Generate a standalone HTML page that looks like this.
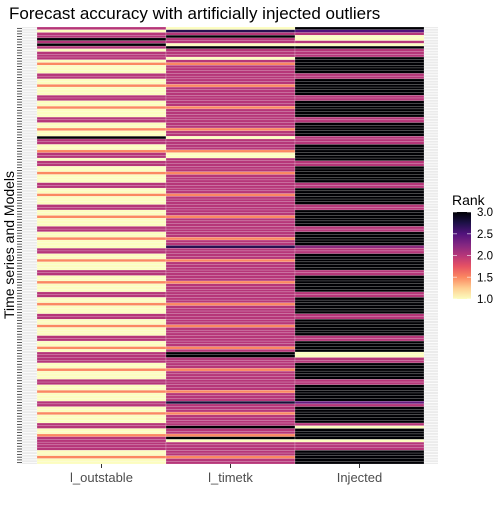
<!DOCTYPE html>
<html><head><meta charset="utf-8">
<style>
body{margin:0;background:#fff;font-family:"Liberation Sans",sans-serif;}
svg text{font-family:"Liberation Sans",sans-serif;}
</style></head>
<body>
<svg id="chart" width="504" height="504" viewBox="0 0 504 504">
<defs>
<linearGradient id="magma" x1="0" y1="1" x2="0" y2="0">
<stop offset="0" stop-color="#FCFDBF"/><stop offset="0.125" stop-color="#FECE91"/>
<stop offset="0.25" stop-color="#FB8861"/><stop offset="0.375" stop-color="#E75263"/>
<stop offset="0.5" stop-color="#B63679"/><stop offset="0.625" stop-color="#822681"/>
<stop offset="0.75" stop-color="#51127C"/><stop offset="0.875" stop-color="#1D1147"/>
<stop offset="1" stop-color="#000004"/></linearGradient>
</defs>
<text x="9" y="19" font-size="17" fill="#000">Forecast accuracy with artificially injected outliers</text>
<rect x="22" y="27" width="416" height="437" fill="#EBEBEB"/>
<g id="grid"></g>
<g id="tiles"></g>
<g id="yticks"></g>
<g id="xaxis"></g>
<text transform="translate(14,245) rotate(-90)" text-anchor="middle" font-size="14" fill="#000">Time series and Models</text>
<text x="452" y="205" font-size="14" fill="#000">Rank</text>
<rect x="453" y="212" width="18" height="87" fill="url(#magma)"/>
<g id="legend"></g>
</svg>
<script>
const categories = ["l_outstable", "l_timetk", "Injected"];
const legendTicks = [1.0, 1.5, 2.0, 2.5, 3.0];
const nRows = 160;
// base repeating block pattern (8 rows) per column
const blockOutstable = [2, 2, 1, 1, 1.5, 1, 1, 1];
const blockTimetk = [2, 2, 2, 2, 1.5, 2, 2, 2];
const blockInjected = [2, 2, 3, 3, 3, 3, 3, 3];
// explicit overrides: [row, outstable, timetk, injected]
const overrides = [
 [0, 2, 1, 3], [1, 1, 2.7, 2.5], [2, 2, 2, 2], [3, 2, 3, 1], [4, 3, 2, 1],
 [5, 2, 2, 2], [6, 3, 1, 1], [7, 2, 3, 3], [8, 1, 2, 2], [9, 2, 2, 2],
 [10, 2, 2, 2], [11, 2, 1, 3], [12, 1, 2, 3],
 [40, 3, 1, 2], [46, 2, 1, 3], [47, 2, 1, 3],
 [80, 1, 2.7, 2.2], [119, 2, 3, 1], [120, 2, 3, 1],
 [137, 2, 2.8, 2.4], [146, 2, 3, 1], [150, 2, 3, 3], [151, 2, 1, 1],
 [152, 2, 2, 2], [153, 2, 2, 2]
];
const stops = [[0,"#FCFDBF"],[0.125,"#FECE91"],[0.25,"#FB8861"],[0.375,"#E75263"],[0.5,"#B63679"],[0.625,"#822681"],[0.75,"#51127C"],[0.875,"#1D1147"],[1,"#000004"]];
function hex(c){return [1,3,5].map(i=>parseInt(c.substr(i,2),16));}
function color(v){
  const t=Math.max(0,Math.min(1,(v-1)/2));
  for(let i=1;i<stops.length;i++){ if(t<=stops[i][0]){
    const a=stops[i-1],b=stops[i],f=(t-a[0])/(b[0]-a[0]);
    const ca=hex(a[1]),cb=hex(b[1]);
    return "rgb("+ca.map((x,k)=>Math.round(x+(cb[k]-x)*f)).join(",")+")";}}
  return stops[stops.length-1][1];
}
const x0=37, colW=129, y0=27, rowH=437/nRows;
const xScale=i=>x0+i*colW;
const yScale=r=>y0+r*rowH;
const lScale=v=>299-(v-1)/2*87;
const values=[];
for(let r=0;r<nRows;r++){const k=((r-1)%8+8)%8;values.push([blockOutstable[k],blockTimetk[k],blockInjected[k]]);}
overrides.forEach(o=>{values[o[0]]=[o[1],o[2],o[3]];});
const NS="http://www.w3.org/2000/svg";
const grid=document.getElementById('grid'), tiles=document.getElementById('tiles'), yt=document.getElementById('yticks');
for(let r=0;r<nRows;r++){
  const yc=yScale(r)+rowH/2;
  const g=document.createElementNS(NS,'line');
  g.setAttribute('x1',22);g.setAttribute('x2',438);g.setAttribute('y1',yc);g.setAttribute('y2',yc);
  g.setAttribute('stroke','#fff');g.setAttribute('stroke-width','0.8');
  
  
  grid.appendChild(g);
  const t=document.createElementNS(NS,'line');
  t.setAttribute('x1',17);t.setAttribute('x2',22);t.setAttribute('y1',yc);t.setAttribute('y2',yc);
  t.setAttribute('stroke','#333');t.setAttribute('stroke-width','0.8');
  
  
  yt.appendChild(t);
  for(let c=0;c<3;c++){
    const rc=document.createElementNS(NS,'rect');
    rc.setAttribute('x',xScale(c));rc.setAttribute('y',yScale(r));
    rc.setAttribute('width',colW);rc.setAttribute('height',rowH);
    rc.setAttribute('fill',color(values[r][c]));
    rc.setAttribute('stroke','rgba(255,255,255,0.45)');rc.setAttribute('stroke-width','0.4');
    
    
    tiles.appendChild(rc);
  }
}
const xa=document.getElementById('xaxis');
categories.forEach((c,i)=>{
  const xc=xScale(i)+colW/2;
  const t=document.createElementNS(NS,'line');
  t.setAttribute('x1',xc);t.setAttribute('x2',xc);t.setAttribute('y1',464);t.setAttribute('y2',468);
  t.setAttribute('stroke','#333');
  
  
  xa.appendChild(t);
  const l=document.createElementNS(NS,'text');
  l.setAttribute('x',xc);l.setAttribute('y',482);l.setAttribute('text-anchor','middle');
  l.setAttribute('font-size','13');l.setAttribute('fill','#4D4D4D');l.textContent=c;
  
  
  xa.appendChild(l);
});
const lg=document.getElementById('legend');
legendTicks.forEach(v=>{
  const y=lScale(v);
  const l=document.createElementNS(NS,'text');
  l.setAttribute('x',477);l.setAttribute('y',y+4);l.setAttribute('font-size','11.5');l.setAttribute('fill','#000');
  l.textContent=v.toFixed(1);
  
  
  lg.appendChild(l);
  [453,467].forEach(x=>{
    const t=document.createElementNS(NS,'line');
    t.setAttribute('x1',x);t.setAttribute('x2',x+4);t.setAttribute('y1',y);t.setAttribute('y2',y);
    t.setAttribute('stroke','rgba(255,255,255,0.6)');
    
    
    lg.appendChild(t);
  });
});
</script>
</body></html>
